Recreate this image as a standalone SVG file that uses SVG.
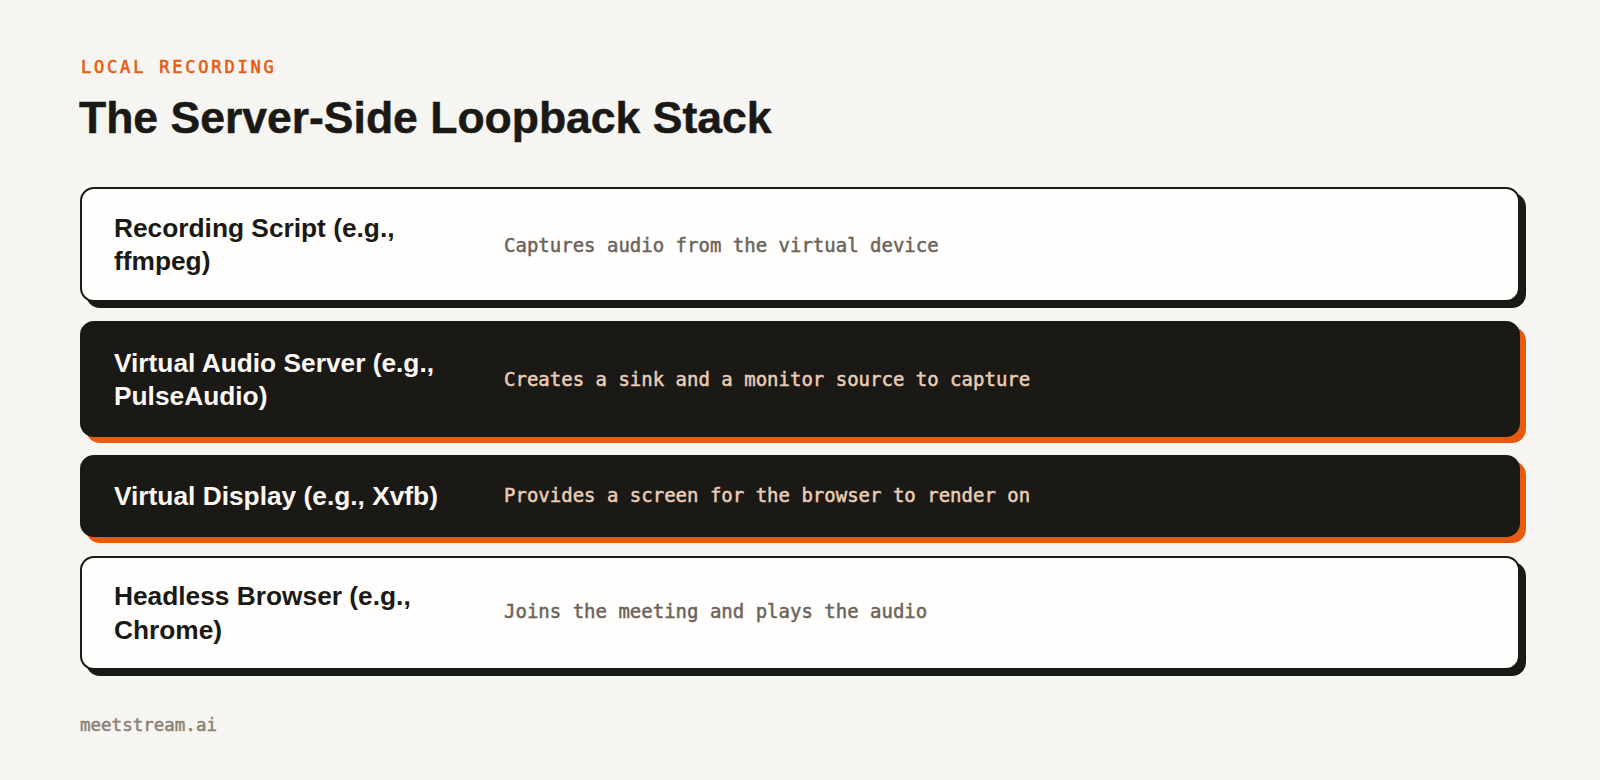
<svg xmlns="http://www.w3.org/2000/svg" width="1600" height="780" viewBox="0 0 1600 780">
  <style>
    .eyebrow { font-family: "DejaVu Sans Mono", "Liberation Mono", monospace; font-size: 17px; letter-spacing: 2.8px; fill: #E85A10; stroke: #E85A10; stroke-width: 0.6; }
    .title { font-family: "Liberation Sans", Arial, sans-serif; font-weight: 700; font-size: 44.5px; fill: #1B1915; stroke: #1B1915; stroke-width: 0.5; }
    .label { font-family: "Liberation Sans", Arial, sans-serif; font-weight: 700; font-size: 26.3px; }
    .desc { font-family: "DejaVu Sans Mono", "Liberation Mono", monospace; font-size: 19px; stroke-width: 0.5; }
    .light .card { fill: #FFFEFC; stroke: #1B1915; stroke-width: 2; }
    .light .shadow { fill: #1B1915; }
    .light .label { fill: #1B1915; }
    .light .desc { fill: #6B645A; stroke: #6B645A; }
    .dark .card { fill: #1B1915; stroke: #1B1915; stroke-width: 2; }
    .dark .shadow { fill: #E85A0F; }
    .dark .label { fill: #FBF8F3; }
    .dark .desc { fill: #E9CDB6; stroke: #E9CDB6; }
    .footer { font-family: "DejaVu Sans Mono", "Liberation Mono", monospace; font-size: 17.5px; fill: #8C8273; stroke: #8C8273; stroke-width: 0.5; }
  </style>
  <rect x="0" y="0" width="1600" height="780" fill="#F6F5F2"/>

  <text class="eyebrow" x="81" y="73">LOCAL RECORDING</text>
  <text class="title" x="79" y="133">The Server-Side Loopback Stack</text>

  <g id="node-recording-script" class="light">
    <rect class="shadow" x="86" y="193" width="1440" height="115" rx="14"/>
    <rect class="card" x="81" y="188" width="1438" height="113" rx="13"/>
    <text class="label" x="114" y="236.5">Recording Script (e.g.,</text>
    <text class="label" x="114" y="270">ffmpeg)</text>
    <text class="desc" x="504" y="251.5">Captures audio from the virtual device</text>
  </g>

  <g id="node-virtual-audio-server" class="dark">
    <rect class="shadow" x="86" y="327" width="1440" height="116" rx="14"/>
    <rect class="card" x="81" y="322" width="1438" height="114" rx="13"/>
    <text class="label" x="114" y="371.5">Virtual Audio Server (e.g.,</text>
    <text class="label" x="114" y="405">PulseAudio)</text>
    <text class="desc" x="504" y="385.5">Creates a sink and a monitor source to capture</text>
  </g>

  <g id="node-virtual-display" class="dark">
    <rect class="shadow" x="86" y="461" width="1440" height="82" rx="14"/>
    <rect class="card" x="81" y="456" width="1438" height="80" rx="13"/>
    <text class="label" x="114" y="505">Virtual Display (e.g., Xvfb)</text>
    <text class="desc" x="504" y="502">Provides a screen for the browser to render on</text>
  </g>

  <g id="node-headless-browser" class="light">
    <rect class="shadow" x="86" y="562" width="1440" height="114" rx="14"/>
    <rect class="card" x="81" y="557" width="1438" height="112" rx="13"/>
    <text class="label" x="114" y="605">Headless Browser (e.g.,</text>
    <text class="label" x="114" y="638.5">Chrome)</text>
    <text class="desc" x="504" y="618">Joins the meeting and plays the audio</text>
  </g>

  <g id="connectors"></g>

  <text class="footer" x="80" y="730.5">meetstream.ai</text>
</svg>
